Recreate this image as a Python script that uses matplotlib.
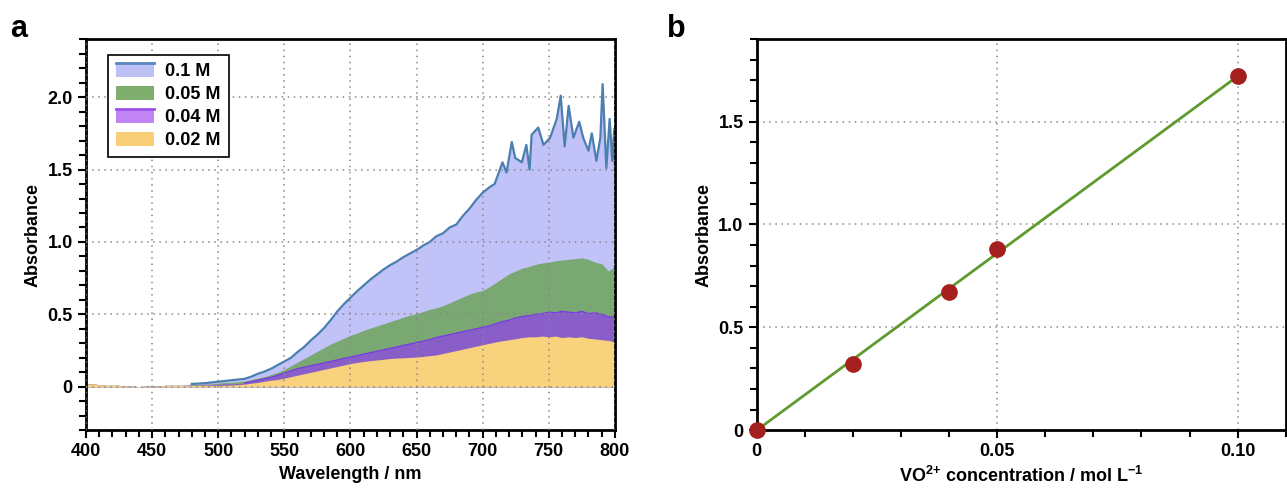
import matplotlib
matplotlib.use("Agg")
import matplotlib.pyplot as plt
import numpy as np
from matplotlib.legend_handler import HandlerBase
from matplotlib.patches import Patch, Rectangle
from matplotlib.lines import Line2D
from matplotlib.ticker import MultipleLocator, FuncFormatter

plt.rcParams['font.family'] = ['Liberation Sans', 'DejaVu Sans']
plt.rcParams['font.weight'] = 'bold'
plt.rcParams['axes.labelweight'] = 'bold'
plt.rcParams['mathtext.fontset'] = 'custom'
plt.rcParams['mathtext.rm'] = 'Liberation Sans:bold'
plt.rcParams['mathtext.bf'] = 'Liberation Sans:bold'

# ---- panel a : spectra ----
wl = np.arange(400, 801, 5)

# 0.1 M : 400-700 nm every 5 nm, then the noisy tail point by point
wl_01_lo = np.arange(400, 701, 5)
abs_01_lo = [0.02, 0.02, 0.015, 0.01, 0.01, 0.01, 0.005, 0.005, 0.0, 0.005,
             0.005, 0.005, 0.01, 0.01, 0.01, 0.015, 0.02, 0.022, 0.025, 0.03,
             0.035, 0.04, 0.045, 0.05, 0.055, 0.07, 0.09, 0.105, 0.125, 0.15,
             0.175, 0.20, 0.24, 0.275, 0.32, 0.36, 0.405, 0.46, 0.52, 0.57,
             0.615, 0.66, 0.70, 0.74, 0.775, 0.81, 0.84, 0.865, 0.895, 0.92,
             0.945, 0.975, 1.00, 1.04, 1.06, 1.10, 1.12, 1.18, 1.23, 1.29,
             1.34]
wl_01_hi = [705.5, 709, 715, 718, 722, 724.6, 729.6, 733, 735.5, 737, 742, 746,
            751, 756, 759, 762, 765, 768.6, 773, 776, 780, 782.5, 786, 789,
            790.7, 793.5, 796, 798, 799.5, 800]
abs_01_hi = [1.38, 1.40, 1.55, 1.48, 1.69, 1.58, 1.55, 1.67, 1.50, 1.74, 1.79, 1.67,
             1.72, 1.85, 2.01, 1.66, 1.94, 1.72, 1.83, 1.72, 1.63, 1.75, 1.56, 1.72,
             2.09, 1.51, 1.85, 1.56, 1.78, 1.52]

abs_005 = [0.02, 0.02, 0.015, 0.01, 0.01, 0.01, 0.005, 0.005, 0.0, 0.005,
           0.005, 0.005, 0.01, 0.01, 0.01, 0.01, 0.015, 0.015, 0.02, 0.02,
           0.025, 0.03, 0.03, 0.035, 0.04, 0.05, 0.06, 0.07, 0.085, 0.10,
           0.12, 0.145, 0.17, 0.195, 0.22, 0.245, 0.27, 0.295, 0.315, 0.335,
           0.355, 0.37, 0.39, 0.405, 0.42, 0.435, 0.45, 0.465, 0.48, 0.495,
           0.505, 0.52, 0.535, 0.545, 0.56, 0.58, 0.60, 0.62, 0.64, 0.655,
           0.665, 0.69, 0.72, 0.75, 0.78, 0.80, 0.82, 0.83, 0.845, 0.855,
           0.86, 0.87, 0.875, 0.88, 0.885, 0.89, 0.88, 0.86, 0.85, 0.80,
           0.83]
abs_004 = [0.02, 0.02, 0.015, 0.01, 0.01, 0.01, 0.005, 0.005, 0.0, 0.005,
           0.005, 0.005, 0.01, 0.01, 0.01, 0.01, 0.012, 0.012, 0.015, 0.015,
           0.018, 0.02, 0.02, 0.022, 0.025, 0.035, 0.045, 0.055, 0.065, 0.08,
           0.095, 0.11, 0.125, 0.135, 0.145, 0.155, 0.165, 0.175, 0.185, 0.195,
           0.205, 0.215, 0.225, 0.235, 0.245, 0.255, 0.265, 0.275, 0.285, 0.295,
           0.305, 0.315, 0.325, 0.34, 0.35, 0.36, 0.37, 0.38, 0.39, 0.40,
           0.41, 0.42, 0.435, 0.45, 0.46, 0.475, 0.485, 0.49, 0.50, 0.505,
           0.515, 0.51, 0.52, 0.515, 0.51, 0.52, 0.505, 0.51, 0.50, 0.48,
           0.485]
abs_002 = [0.02, 0.02, 0.015, 0.01, 0.01, 0.01, 0.005, 0.005, -0.005, 0.005,
           0.005, 0.005, 0.01, 0.01, 0.01, 0.01, 0.01, 0.01, 0.01, 0.01,
           0.01, 0.01, 0.012, 0.015, 0.018, 0.025, 0.03, 0.038, 0.045, 0.05,
           0.06, 0.07, 0.08, 0.09, 0.10, 0.11, 0.12, 0.13, 0.14, 0.15,
           0.16, 0.168, 0.175, 0.18, 0.185, 0.19, 0.195, 0.198, 0.20, 0.203,
           0.205, 0.21, 0.215, 0.22, 0.23, 0.24, 0.25, 0.26, 0.27, 0.28,
           0.29, 0.30, 0.31, 0.318, 0.325, 0.332, 0.34, 0.345, 0.345, 0.35,
           0.345, 0.35, 0.34, 0.345, 0.34, 0.345, 0.335, 0.33, 0.325, 0.32,
           0.31]

legend_labels = ['0.1 M', '0.05 M', '0.04 M', '0.02 M']

# ---- panel b : calibration ----
conc = [0.0, 0.02, 0.04, 0.05, 0.10]
absorb = [0.0, 0.32, 0.67, 0.88, 1.72]
fit_x = [0.0, 0.10]
fit_y = [0.0, 1.72]


class TopLineHandler(HandlerBase):
    def __init__(self, line_color=None):
        super().__init__()
        self.line_color = line_color

    def create_artists(self, legend, orig_handle, xdescent, ydescent,
                       width, height, fontsize, trans):
        rect = Rectangle((-xdescent, -ydescent), width, height,
                         facecolor=orig_handle.get_facecolor(),
                         edgecolor='none', transform=trans)
        arts = [rect]
        if self.line_color:
            ln = Line2D([-xdescent, -xdescent + width],
                        [-ydescent + height, -ydescent + height],
                        color=self.line_color, lw=2, transform=trans)
            arts.append(ln)
        return arts


def style_axes(ax):
    for s in ax.spines.values():
        s.set_linewidth(2)
    ax.tick_params(which='both', direction='out', width=1.5, labelsize=13)
    ax.tick_params(which='major', length=6)
    ax.tick_params(which='minor', length=5)
    ax.grid(True, which='major', color='#888888', linestyle=(0, (1, 3)), lw=1.1)


fig = plt.figure(figsize=(12.87, 4.9), dpi=100)
ax1 = fig.add_axes([0.0668, 0.122, 0.411, 0.798])
ax2 = fig.add_axes([0.588, 0.122, 0.411, 0.798])

c_blue_fill, c_blue_line = '#c0c2f8', '#4a7fb0'
c_green = '#7aa872'
c_purple, c_purple_line = '#8a5ec8', '#7a38e8'
c_yellow = '#f8d27c'

wl01 = np.concatenate([wl_01_lo, wl_01_hi])
a01 = np.concatenate([abs_01_lo, abs_01_hi])
wl004 = np.asarray(wl)
a004 = np.asarray(abs_004)

# edge lines only where the curves rise out of the common baseline
b = wl01 >= 480
ax1.fill_between(wl01, 0, a01, color=c_blue_fill, lw=0, zorder=1)
ax1.plot(wl01[b], a01[b], color=c_blue_line, lw=1.6, zorder=1.05)
ax1.fill_between(wl, 0, abs_005, color=c_green, lw=0, zorder=1.1)
ax1.fill_between(wl, 0, abs_004, color=c_purple, lw=0, zorder=1.2)
p = wl004 >= 520
ax1.plot(wl004[p], a004[p], color=c_purple_line, lw=1.0, zorder=1.25)
ax1.fill_between(wl, 0, abs_002, color=c_yellow, lw=0, zorder=1.3)

ax1.set_xlim(400, 800)
ax1.set_ylim(-0.3, 2.4)
ax1.xaxis.set_major_locator(MultipleLocator(50))
ax1.xaxis.set_minor_locator(MultipleLocator(10))
ax1.yaxis.set_major_locator(MultipleLocator(0.5))
ax1.yaxis.set_minor_locator(MultipleLocator(0.1))
ax1.yaxis.set_major_formatter(FuncFormatter(lambda v, p: '0' if abs(v) < 1e-9 else f'{v:.1f}'))
style_axes(ax1)
ax1.set_axisbelow(False)
ax1.set_xlabel('Wavelength / nm', fontsize=13)
ax1.set_ylabel('Absorbance', fontsize=13)

leg_cols = [('#bcc0f5', '#5a86c0'), ('#7fae6f', None),
            ('#c084f5', '#9a50e8'), ('#f8cf78', None)]
handles = [Patch(facecolor=fc) for fc, _ in leg_cols]
hmap = {h: TopLineHandler(lc) for h, (_, lc) in zip(handles, leg_cols)}
leg = ax1.legend(handles, legend_labels, handler_map=hmap, loc='upper left',
                 bbox_to_anchor=(0.042, 0.96), borderaxespad=0, fancybox=False,
                 edgecolor='black', framealpha=1, fontsize=13,
                 handlelength=2.1, handleheight=0.85, labelspacing=0.3,
                 handletextpad=0.6, borderpad=0.45)
leg.get_frame().set_linewidth(1.2)
leg.set_zorder(5)

ax2.plot(fit_x, fit_y, color='#5e9a2e', lw=2, zorder=2)
ax2.plot(conc, absorb, 'o', color='#a3201e', ms=11, zorder=3, clip_on=False)
ax2.set_xlim(0, 0.11)
ax2.set_ylim(0, 1.9)
ax2.xaxis.set_major_locator(MultipleLocator(0.05))
ax2.xaxis.set_minor_locator(MultipleLocator(0.01))
ax2.yaxis.set_major_locator(MultipleLocator(0.5))
ax2.yaxis.set_minor_locator(MultipleLocator(0.1))
ax2.xaxis.set_major_formatter(FuncFormatter(lambda v, p: '0' if abs(v) < 1e-9 else f'{v:.2f}'))
ax2.yaxis.set_major_formatter(FuncFormatter(lambda v, p: '0' if abs(v) < 1e-9 else f'{v:.1f}'))
style_axes(ax2)
ax2.set_xlabel(r'VO$^{\mathrm{2{+}}}$ concentration / mol L$^{\mathrm{-1}}$', fontsize=13)
ax2.set_ylabel('Absorbance', fontsize=13)

fig.text(0.008, 0.925, 'a', fontsize=22, fontweight='bold')
fig.text(0.518, 0.925, 'b', fontsize=22, fontweight='bold')

fig.savefig('out.png', dpi=100)
